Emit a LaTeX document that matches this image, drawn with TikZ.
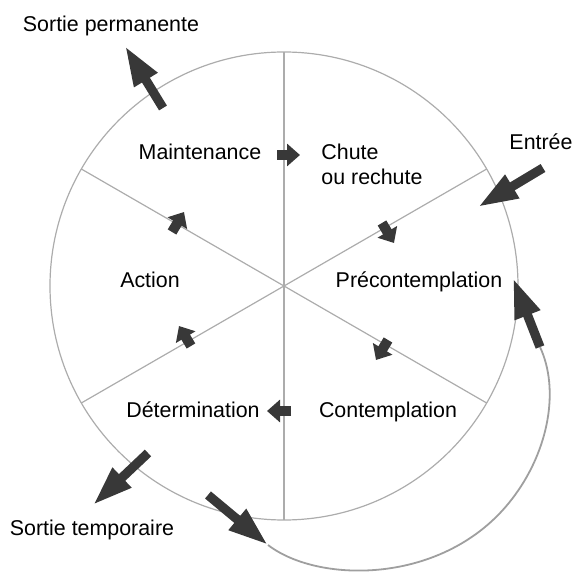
\documentclass[tikz,border=0pt]{standalone}
\usepackage{fontspec}
\setmainfont{Liberation Sans}
\usetikzlibrary{arrows.meta,shapes}
\tikzstyle{stage}=[font=\fontsize{10.7}{12.5}\selectfont, inner sep=0pt]
\tikzstyle{spoke}=[gray!65, line width=0.6pt]
\tikzstyle{loopline}=[gray!75, line width=0.9pt]
\tikzstyle{bigarrow}=[black!78, line width=4.6pt, -{Triangle[length=20pt,width=12.5pt]}]
\tikzstyle{smallarrow}=[black!78, line width=5pt, -{Triangle[length=6.5pt,width=11pt]}]

\begin{document}
\begin{tikzpicture}[x=0.5pt,y=-0.5pt]
\useasboundingbox (0,0) rectangle (574,572);

%wheel
    \node[circle, draw=gray!65, line width=0.6pt, minimum size=234pt, inner sep=0pt, outer sep=0pt] (wheel) at (284,286) {};
    \foreach \a/\b in {30/210, 90/270, 150/330}
        \draw[spoke] (wheel.\a) -- (wheel.\b);

%stages
    \node[stage, anchor=base] (maint) at (200,160) {Maintenance};
    \node[stage, anchor=north west, align=left] (chute) at (321,144) {Chute\\ou rechute};
    \node[stage, anchor=base] (action) at (150,288) {Action};
    \node[stage, anchor=base] (precon) at (419,288) {Précontemplation};
    \node[stage, anchor=base] (determ) at (193,418) {Détermination};
    \node[stage, anchor=base] (contemp) at (388,418) {Contemplation};

%exits and entry
    \node[stage, anchor=base] (sortperm) at (111,32) {Sortie permanente};
    \node[stage, anchor=base] (entree) at (541,150) {Entrée};
    \node[stage, anchor=base] (sorttemp) at (92,536) {Sortie temporaire};

%small arrows between stages
    \foreach \i/\ta/\tb/\ha/\hb in {1/277/155/300/155, 2/382/223/394/243, 3/388/340/376/360, 4/291/411/267/411, 5/191/346/179/326, 6/172/232/184/212}{
        \coordinate (st\i) at (\ta,\tb);
        \coordinate (sh\i) at (\ha,\hb);
        \draw[smallarrow] (st\i) -- (sh\i);
    }

%big arrows
    \foreach \name/\ta/\tb/\ha/\hb in {perm/163/108/125/46, in/543/168/478/207, temp/148/453/93/505, back/208/495/268/545, ret/540/347/513/278}{
        \coordinate (\name tail) at (\ta,\tb);
        \coordinate (\name head) at (\ha,\hb);
        \draw[bigarrow] (\name tail) -- (\name head);
    }

%return loop
    \draw[loopline] (backhead) .. controls (320,585) and (450,585) .. (515,495)
        .. controls (548,450) and (560,390) .. (rettail);

\end{tikzpicture}
\end{document}
